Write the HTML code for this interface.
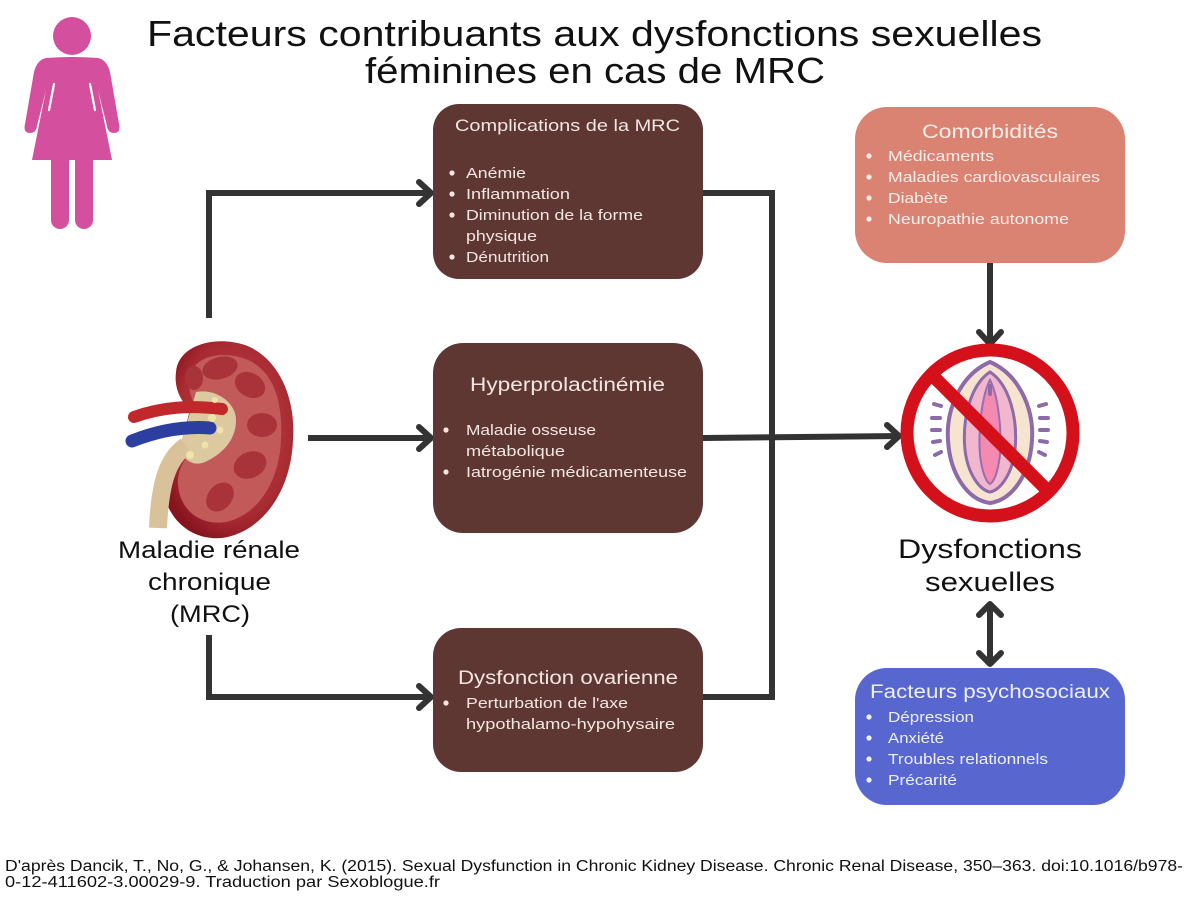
<!DOCTYPE html>
<html>
<head>
<meta charset="utf-8">
<style>
html,body{margin:0;padding:0;background:#fff;}
svg{display:block;}
text{font-family:"Liberation Sans",sans-serif;}
</style>
</head>
<body>
<svg width="1200" height="900" viewBox="0 0 1200 900" xmlns="http://www.w3.org/2000/svg">
<rect width="1200" height="900" fill="#ffffff"/>

<!-- Title -->
<text x="147" y="46" font-size="36" fill="#111" textLength="895" lengthAdjust="spacingAndGlyphs">Facteurs contribuants aux dysfonctions sexuelles</text>
<text x="365" y="83" font-size="36" fill="#111" textLength="460" lengthAdjust="spacingAndGlyphs">féminines en cas de MRC</text>

<!-- Woman icon -->
<g fill="#D4509E">
  <circle cx="72" cy="36" r="19"/>
  <path d="M 46 58 Q 72 56 98 58 Q 107 60 110 72 L 119 124 Q 121 133 114 133 Q 108 133 107 126 L 98 90 L 112 160 L 32 160 L 46 90 L 37 126 Q 36 133 30 133 Q 23 133 25 124 L 34 72 Q 37 60 46 58 Z"/>
  <rect x="51" y="150" width="18" height="79" rx="9"/>
  <rect x="75" y="150" width="18" height="79" rx="9"/>
  <rect x="51" y="150" width="18" height="20"/>
  <rect x="75" y="150" width="18" height="20"/>
</g>
<g stroke="#ffffff" stroke-width="2.2" stroke-linecap="round">
  <line x1="54" y1="84" x2="49" y2="110"/>
  <line x1="90" y1="84" x2="95" y2="110"/>
</g>

<!-- Connectors -->
<g stroke="#333333" stroke-width="6" fill="none" stroke-linejoin="miter">
  <polyline points="209,318 209,193 430,193"/>
  <line x1="308" y1="438" x2="430" y2="438"/>
  <polyline points="209,635 209,697 430,697"/>
  <polyline points="703,193 772,193 772,697 703,697"/>
  <line x1="703" y1="438" x2="898" y2="436"/>
  <line x1="990" y1="263" x2="990" y2="342"/>
  <line x1="990" y1="606" x2="990" y2="662"/>
</g>
<g stroke="#333333" stroke-width="6" fill="none" stroke-linecap="round" stroke-linejoin="round">
  <polyline points="419,182 431,193 419,204"/>
  <polyline points="419,427 431,438 419,449"/>
  <polyline points="419,686 431,697 419,708"/>
  <polyline points="887,425 899,436 887,447"/>
  <polyline points="979,332 990,344 1001,332"/>
  <polyline points="979,615 990,604 1001,615"/>
  <polyline points="979,653 990,664 1001,653"/>
</g>

<!-- Box 1 -->
<rect x="433" y="104" width="270" height="175" rx="26" fill="#5E3733"/>
<text x="455" y="131" font-size="17" fill="#F3E6E1" textLength="225" lengthAdjust="spacingAndGlyphs">Complications de la MRC</text>
<g fill="#F3E6E1">
  <circle cx="452" cy="173" r="2.6"/><circle cx="452" cy="194" r="2.6"/><circle cx="452" cy="215" r="2.6"/><circle cx="452" cy="257" r="2.6"/>
</g>
<g font-size="15" fill="#F3E6E1">
  <text x="466" y="178" textLength="60" lengthAdjust="spacingAndGlyphs">Anémie</text>
  <text x="466" y="199" textLength="104" lengthAdjust="spacingAndGlyphs">Inflammation</text>
  <text x="466" y="220" textLength="177" lengthAdjust="spacingAndGlyphs">Diminution de la forme</text>
  <text x="466" y="241" textLength="71" lengthAdjust="spacingAndGlyphs">physique</text>
  <text x="466" y="262" textLength="83" lengthAdjust="spacingAndGlyphs">Dénutrition</text>
</g>

<!-- Box 2 -->
<rect x="433" y="343" width="270" height="190" rx="30" fill="#5E3733"/>
<text x="470" y="391" font-size="19" fill="#F3E6E1" textLength="195" lengthAdjust="spacingAndGlyphs">Hyperprolactinémie</text>
<g fill="#F3E6E1">
  <circle cx="446" cy="430" r="2.6"/><circle cx="446" cy="472" r="2.6"/>
</g>
<g font-size="15" fill="#F3E6E1">
  <text x="466" y="435" textLength="130" lengthAdjust="spacingAndGlyphs">Maladie osseuse</text>
  <text x="466" y="456" textLength="99" lengthAdjust="spacingAndGlyphs">métabolique</text>
  <text x="466" y="477" textLength="221" lengthAdjust="spacingAndGlyphs">Iatrogénie médicamenteuse</text>
</g>

<!-- Box 3 -->
<rect x="433" y="628" width="270" height="144" rx="28" fill="#5E3733"/>
<text x="458" y="684" font-size="19" fill="#F3E6E1" textLength="220" lengthAdjust="spacingAndGlyphs">Dysfonction ovarienne</text>
<circle cx="446" cy="703" r="2.6" fill="#F3E6E1"/>
<g font-size="15" fill="#F3E6E1">
  <text x="466" y="708" textLength="162" lengthAdjust="spacingAndGlyphs">Perturbation  de l'axe</text>
  <text x="466" y="729" textLength="209" lengthAdjust="spacingAndGlyphs">hypothalamo-hypohysaire</text>
</g>

<!-- Comorbidités -->
<rect x="855" y="107" width="270" height="156" rx="32" fill="#DB8373"/>
<text x="922" y="138" font-size="19" fill="#FBEDE8" textLength="136" lengthAdjust="spacingAndGlyphs">Comorbidités</text>
<g fill="#FBEDE8">
  <circle cx="869" cy="156" r="2.6"/><circle cx="869" cy="177" r="2.6"/><circle cx="869" cy="198" r="2.6"/><circle cx="869" cy="219" r="2.6"/>
</g>
<g font-size="15" fill="#FBEDE8">
  <text x="888" y="161" textLength="106" lengthAdjust="spacingAndGlyphs">Médicaments</text>
  <text x="888" y="182" textLength="212" lengthAdjust="spacingAndGlyphs">Maladies cardiovasculaires</text>
  <text x="888" y="203" textLength="60" lengthAdjust="spacingAndGlyphs">Diabète</text>
  <text x="888" y="224" textLength="181" lengthAdjust="spacingAndGlyphs">Neuropathie autonome</text>
</g>

<!-- Facteurs psychosociaux -->
<rect x="855" y="668" width="270" height="137" rx="32" fill="#5866D0"/>
<text x="870" y="698" font-size="19" fill="#EEF0FF" textLength="240" lengthAdjust="spacingAndGlyphs">Facteurs psychosociaux</text>
<g fill="#EEF0FF">
  <circle cx="869" cy="717" r="2.6"/><circle cx="869" cy="738" r="2.6"/><circle cx="869" cy="759" r="2.6"/><circle cx="869" cy="780" r="2.6"/>
</g>
<g font-size="15" fill="#EEF0FF">
  <text x="888" y="722" textLength="86" lengthAdjust="spacingAndGlyphs">Dépression</text>
  <text x="888" y="743" textLength="56" lengthAdjust="spacingAndGlyphs">Anxiété</text>
  <text x="888" y="764" textLength="160" lengthAdjust="spacingAndGlyphs">Troubles relationnels</text>
  <text x="888" y="785" textLength="69" lengthAdjust="spacingAndGlyphs">Précarité</text>
</g>

<!-- Kidney -->
<defs>
  <radialGradient id="kg" cx="0.55" cy="0.45" r="0.6">
    <stop offset="0" stop-color="#C24A4E"/>
    <stop offset="0.75" stop-color="#A82A32"/>
    <stop offset="1" stop-color="#85141E"/>
  </radialGradient>
</defs>
<path d="M 176 372 C 178 345 215 335 245 345 C 280 358 296 400 293 440 C 291 492 262 532 222 538 C 188 541 163 515 162 480 C 161 462 172 450 182 440 L 190 410 C 180 400 174 388 176 372 Z" fill="url(#kg)"/>
<path d="M 190 375 C 195 355 225 350 248 360 C 275 372 283 405 281 440 C 279 482 258 515 226 522 C 200 526 180 510 178 485 C 177 468 186 458 194 448 L 200 412 C 192 402 187 390 190 375 Z" fill="#C25A5A"/>
<g fill="#A8343A">
  <ellipse cx="220" cy="368" rx="18" ry="11" transform="rotate(-15 220 368)"/>
  <ellipse cx="250" cy="385" rx="16" ry="12" transform="rotate(30 250 385)"/>
  <ellipse cx="262" cy="425" rx="15" ry="12"/>
  <ellipse cx="250" cy="465" rx="17" ry="13" transform="rotate(-25 250 465)"/>
  <ellipse cx="220" cy="497" rx="16" ry="12" transform="rotate(-50 220 497)"/>
  <ellipse cx="194" cy="378" rx="9" ry="12"/>
</g>
<path d="M 196 392 C 215 388 236 402 236 420 C 236 442 220 455 205 462 C 190 468 178 456 182 440 Z" fill="#DCC9A0"/>
<path d="M 186 446 C 168 458 160 482 158 528" stroke="#D9C29A" stroke-width="18" fill="none"/>
<path d="M 134 417 C 162 407 190 405 222 409" stroke="#C0282C" stroke-width="12" fill="none" stroke-linecap="round"/>
<path d="M 132 441 C 160 430 185 426 210 428" stroke="#2C3FA0" stroke-width="13" fill="none" stroke-linecap="round"/>
<g fill="#EFE3A8">
  <circle cx="212" cy="418" r="4"/><circle cx="220" cy="430" r="3.5"/><circle cx="205" cy="445" r="3.5"/><circle cx="190" cy="455" r="4"/><circle cx="215" cy="400" r="3"/>
</g>

<!-- Kidney label -->
<g font-size="24" fill="#111">
  <text x="118" y="558" textLength="182" lengthAdjust="spacingAndGlyphs">Maladie rénale</text>
  <text x="148" y="590" textLength="123" lengthAdjust="spacingAndGlyphs">chronique</text>
  <text x="170" y="622" textLength="80" lengthAdjust="spacingAndGlyphs">(MRC)</text>
</g>

<!-- Vulva icon -->
<g>
  <path d="M 990 362 C 1020 375 1034 410 1032 440 C 1030 475 1012 500 990 503 C 968 500 950 475 948 440 C 946 410 960 375 990 362 Z" fill="#F6E4D0" stroke="#8C6BA8" stroke-width="4"/>
  <path d="M 990 372 C 1010 385 1018 420 1015 450 C 1012 475 1000 490 990 492 C 980 490 968 475 965 450 C 962 420 970 385 990 372 Z" fill="#F0B7CF" stroke="#8C6BA8" stroke-width="3"/>
  <path d="M 990 380 C 998 395 1002 430 1000 455 C 998 472 994 482 990 484 C 986 482 982 472 980 455 C 978 430 982 395 990 380 Z" fill="#F48AB0" stroke="#9A6DB0" stroke-width="2"/>
  <rect x="988" y="384" width="4" height="12" rx="2" fill="#8C6BA8"/>
  <g stroke="#8C6BA8" stroke-width="4" stroke-linecap="round">
    <line x1="934" y1="404" x2="941" y2="406"/>
    <line x1="932" y1="418" x2="940" y2="418"/>
    <line x1="932" y1="430" x2="940" y2="430"/>
    <line x1="933" y1="442" x2="940" y2="441"/>
    <line x1="935" y1="455" x2="941" y2="452"/>
    <line x1="1039" y1="406" x2="1046" y2="404"/>
    <line x1="1040" y1="418" x2="1048" y2="418"/>
    <line x1="1040" y1="430" x2="1048" y2="430"/>
    <line x1="1040" y1="441" x2="1047" y2="442"/>
    <line x1="1039" y1="452" x2="1045" y2="455"/>
  </g>
</g>
<!-- Prohibition sign -->
<circle cx="990" cy="433" r="83" fill="none" stroke="#D4101A" stroke-width="13"/>
<line x1="931" y1="374" x2="1049" y2="492" stroke="#D4101A" stroke-width="13"/>

<!-- Dysfonctions sexuelles -->
<g font-size="27" fill="#111">
  <text x="898" y="558" textLength="184" lengthAdjust="spacingAndGlyphs">Dysfonctions</text>
  <text x="925" y="591" textLength="130" lengthAdjust="spacingAndGlyphs">sexuelles</text>
</g>

<!-- Footer -->
<g font-size="15.5" fill="#111">
  <text x="5" y="871" textLength="1178" lengthAdjust="spacingAndGlyphs">D'après  Dancik, T., No, G., &amp; Johansen, K. (2015). Sexual Dysfunction in Chronic Kidney Disease. Chronic Renal Disease, 350–363. doi:10.1016/b978-</text>
  <text x="5" y="887" textLength="435" lengthAdjust="spacingAndGlyphs">0-12-411602-3.00029-9. Traduction par Sexoblogue.fr</text>
</g>
</svg>
</body>
</html>
